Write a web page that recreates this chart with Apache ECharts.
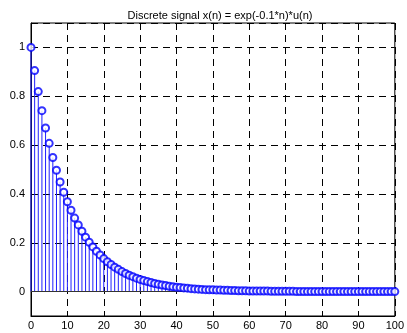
<!DOCTYPE html>
<html>
<head>
<meta charset="utf-8">
<script src="https://cdn.jsdelivr.net/npm/echarts@6/dist/echarts.min.js"></script>
<style>
html, body { margin: 0; padding: 0; background: #fff; }
#chart { width: 407px; height: 333px; }
</style>
</head>
<body>
<div id="chart"></div>
<script>
// x(n) samples, n = 0..100
var n = [];
for (var i = 0; i <= 100; i++) n.push(i);
var xn = [
    1.000, 0.905, 0.819, 0.741, 0.670, 0.607, 0.549, 0.497, 0.449, 0.407,
    0.368, 0.333, 0.301, 0.273, 0.247, 0.223, 0.202, 0.183, 0.165, 0.150,
    0.135, 0.122, 0.111, 0.100, 0.091, 0.082, 0.074, 0.067, 0.061, 0.055,
    0.050, 0.045, 0.041, 0.037, 0.033, 0.030, 0.027, 0.025, 0.022, 0.020,
    0.018, 0.017, 0.015, 0.014, 0.012, 0.011, 0.010, 0.009, 0.008, 0.007,
    0.007, 0.006, 0.006, 0.005, 0.005, 0.004, 0.004, 0.003, 0.003, 0.003,
    0.002, 0.002, 0.002, 0.002, 0.002, 0.002, 0.001, 0.001, 0.001, 0.001,
    0.001, 0.001, 0.001, 0.000, 0.000, 0.000, 0.000, 0.000, 0.000, 0.000,
    0.000, 0.000, 0.000, 0.000, 0.000, 0.000, 0.000, 0.000, 0.000, 0.000,
    0.000, 0.000, 0.000, 0.000, 0.000, 0.000, 0.000, 0.000, 0.000, 0.000,
    0.000
];
var title = 'Discrete signal x(n) = exp(-0.1*n)*u(n)';

var pts = n.map(function (k, idx) { return [k, xn[idx]]; });

var myChart = echarts.init(document.getElementById('chart'));
var font = 'Liberation Sans, Arial, sans-serif';
var gridDash = {
    show: true,
    lineStyle: { color: '#000', type: [7, 5], width: 1 }
};
var option = {
    animation: false,
    backgroundColor: '#fff',
    title: {
        text: title,
        left: 215,
        textAlign: 'center',
        top: 5,
        textStyle: { fontFamily: font, fontSize: 11, fontWeight: 'normal', color: '#000' }
    },
    grid: {
        left: 31, right: 7, top: 23, bottom: 17,
        show: true, borderColor: '#000', borderWidth: 1
    },
    xAxis: {
        type: 'value',
        min: 0, max: 100, interval: 10,
        axisLine: { show: true, onZero: false, lineStyle: { color: '#000' } },
        axisTick: { show: false },
        axisLabel: { color: '#000', fontFamily: font, fontSize: 11, margin: 4 },
        splitLine: gridDash
    },
    yAxis: {
        type: 'value',
        min: -0.1, max: 1.1, splitNumber: 6,
        axisLine: { show: true, lineStyle: { color: '#000' } },
        axisTick: { show: false },
        axisLabel: {
            color: '#000', fontFamily: font, fontSize: 11, margin: 6,
            showMinLabel: false, showMaxLabel: false
        },
        splitLine: gridDash
    },
    series: [
        {
            name: 'stem',
            type: 'bar',
            data: pts,
            barWidth: 1,
            itemStyle: { color: '#2020ff' },
            markLine: {
                silent: true,
                symbol: 'none',
                label: { show: false },
                lineStyle: { color: '#333', type: 'solid', width: 1 },
                data: [{ yAxis: 0 }]
            }
        },
        {
            name: 'x(n)',
            type: 'scatter',
            data: pts,
            symbol: 'emptyCircle',
            symbolSize: 7,
            z: 5,
            itemStyle: { color: '#0000ff', borderColor: '#0000ff', borderWidth: 1 }
        }
    ]
};
myChart.setOption(option);
</script>
</body>
</html>
